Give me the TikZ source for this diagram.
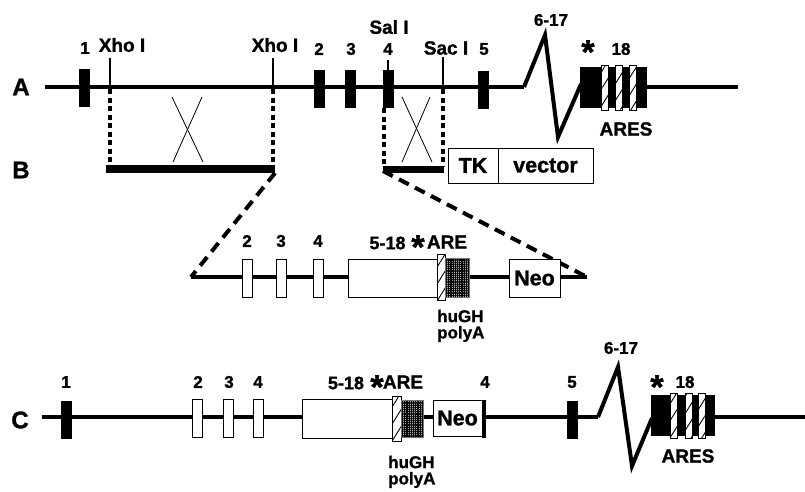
\documentclass[tikz,border=0pt]{standalone}
\usepackage{fontspec}
\setmainfont{Liberation Sans}[BoldFeatures={FakeBold=1.2}]
\usetikzlibrary{patterns.meta}
\begin{document}
\begin{tikzpicture}[x=1pt,y=-1pt,
  lbl/.style={font=\bfseries\fontsize{17}{19}\selectfont, inner sep=0},
  mid/.style={font=\bfseries\fontsize{19}{21}\selectfont, inner sep=0},
  big/.style={font=\bfseries\fontsize{24}{27}\selectfont, inner sep=0},
  boxt/.style={font=\bfseries\fontsize{21.5}{24}\selectfont, inner sep=0},
  star/.style={font=\bfseries\fontsize{34}{36}\selectfont, inner sep=0, anchor=north},
  small/.style={font=\bfseries\fontsize{17}{19}\selectfont, inner sep=0, anchor=west},
  gline/.style={line width=4pt},
  bex/.style={fill=black, draw=none, minimum width=11pt, minimum height=38pt, inner sep=0},
  wex/.style={fill=white, draw=black, line width=0.9pt, minimum width=10pt, minimum height=38pt, inner sep=0},
  wbox/.style={fill=white, draw=black, line width=0.9pt, inner sep=0},
  hatch/.style={draw=black, line width=0.9pt, inner sep=0, preaction={fill=white},
     pattern={Lines[angle=58,distance=9pt,line width=0.9pt]}, minimum width=7pt, minimum height=45pt},
  stip/.style={draw=black!55, line width=0.8pt, inner sep=0, preaction={fill=black!35},
     pattern={Hatch[angle=0,distance=2.2pt,line width=1.1pt]}},
  tick/.style={line width=1.3pt},
  vdash/.style={line width=3.5pt, dash pattern=on 5pt off 3.5pt},
  ddash/.style={line width=4pt, dash pattern=on 11pt off 7pt},
  xline/.style={line width=0.8pt},
  bar/.style={line width=8pt}
]
\useasboundingbox (0,0) rectangle (805,491);

% ---------------- Row A ----------------
\node[big] (lA) at (21,87) {A};
\coordinate (a0) at (45,87);
\coordinate (a1) at (524,87);
\coordinate (z1) at (545,35);
\coordinate (z2) at (558,137);
\coordinate (z3) at (581,84);
\coordinate (a2) at (646,87);
\coordinate (a3) at (738,87);
\draw[gline] (a0) -- (a1);
\draw[gline, line join=miter] (a1) -- (z1) -- (z2) -- (z3);
\draw[gline] (a2) -- (a3);

\coordinate (xh1) at (110,58);
\coordinate (xh1b) at (110,87);
\coordinate (xh2) at (273,58);
\coordinate (xh2b) at (273,87);
\coordinate (sac) at (443,57);
\coordinate (sacb) at (443,87);
\coordinate (sal) at (388,60);
\coordinate (salb) at (388,72);
\draw[tick] (xh1) -- (xh1b);
\draw[tick] (xh2) -- (xh2b);
\draw[tick] (sac) -- (sacb);
\draw[tick] (sal) -- (salb);

\node[bex] (A1) at (84,88) {};
\node[bex] (A2) at (319,89) {};
\node[bex] (A3) at (350,89) {};
\node[bex] (A4) at (388,89) {};
\node[bex] (A5) at (483,90) {};
\node[bex, minimum width=67pt, minimum height=41pt] (A18) at (613.5,87.5) {};
\node[hatch] (As1) at (605,87.5) {};
\node[hatch] (As2) at (618.5,87.5) {};
\node[hatch] (As3) at (632.5,87.5) {};

\node[lbl] (tA1) at (85,48) {1};
\node[mid] (tXho1) at (122,45) {Xho I};
\node[mid] (tXho2) at (275,45) {Xho I};
\node[lbl] (tA2) at (319,49) {2};
\node[lbl] (tA3) at (351,49) {3};
\node[lbl] (tA4) at (388,49) {4};
\node[mid] (tSal) at (389,27) {Sal I};
\node[mid] (tSac) at (446,48) {Sac I};
\node[lbl] (tA5) at (484,49) {5};
\node[lbl] (tA617) at (551,20) {6-17};
\node[star] (tAst) at (588,40) {*};
\node[lbl] (tA18) at (621,49) {18};
\node[mid] (tAres) at (626,129) {ARES};

% ---------------- Row B ----------------
\node[big] (lB) at (21,170) {B};
\coordinate (b1) at (106,169);
\coordinate (b2) at (275,169);
\coordinate (b3) at (383,169.5);
\coordinate (b4) at (444,169.5);
\draw[bar] (b1) -- (b2);
\draw[bar, line width=7pt] (b3) -- (b4);
\node[wbox, minimum width=50pt, minimum height=35pt] (TK) at (473,165.5) {};
\node[wbox, minimum width=95pt, minimum height=35pt] (vec) at (545.5,165.5) {};
\node[boxt] (tTK) at (TK) {TK};
\node[boxt] (tvec) at (vec) {vector};

% dashed verticals
\coordinate (v1a) at (110,89);  \coordinate (v1b) at (110,165);
\coordinate (v2a) at (273,89);  \coordinate (v2b) at (273,165);
\coordinate (v3a) at (384,108); \coordinate (v3b) at (384,166);
\coordinate (v4a) at (443,89);  \coordinate (v4b) at (443,166);
\draw[vdash] (v1a) -- (v1b);
\draw[vdash] (v2a) -- (v2b);
\draw[vdash] (v3a) -- (v3b);
\draw[vdash] (v4a) -- (v4b);

% crosses
\coordinate (x1a) at (172,97); \coordinate (x1b) at (203,162);
\coordinate (x1c) at (202,97); \coordinate (x1d) at (173,162);
\coordinate (x2a) at (402,97); \coordinate (x2b) at (432,162);
\coordinate (x2c) at (430,97); \coordinate (x2d) at (402,162);
\draw[xline] (x1a) -- (x1b);
\draw[xline] (x1c) -- (x1d);
\draw[xline] (x2a) -- (x2b);
\draw[xline] (x2c) -- (x2d);

% ---------------- Middle construct ----------------
\coordinate (m0) at (191,277);
\coordinate (m1) at (587,277);
\coordinate (d1) at (275,173);
\coordinate (d2) at (383,171);
\draw[ddash] (d1) -- (m0);
\draw[ddash] (d2) -- (m1);
\draw[gline] (m0) -- (m1);

\node[wex] (M2) at (247,278) {};
\node[wex] (M3) at (281,278) {};
\node[wex] (M4) at (318,278) {};
\node[wbox, minimum width=89pt, minimum height=38pt] (M518) at (392.5,278) {};
\node[hatch, minimum width=8pt, minimum height=46pt] (Mh) at (441,277) {};
\node[stip, minimum width=24pt, minimum height=39pt] (Ms) at (457,277.5) {};
\node[wbox, minimum width=51pt, minimum height=38pt] (MNeo) at (534.5,278) {};
\node[boxt] (tMNeo) at (MNeo) {Neo};

\node[lbl] (tM2) at (247,241) {2};
\node[lbl] (tM3) at (281,241) {3};
\node[lbl] (tM4) at (318,241) {4};
\node[lbl, font=\bfseries\fontsize{18}{20}\selectfont] (tM518) at (387.5,243) {5-18};
\node[star] (tMst) at (418,235) {*};
\node[mid] (tMare) at (447,242) {ARE};
\node[small] (tMhu) at (437,316) {huGH};
\node[small] (tMpa) at (437,334) {polyA};

% ---------------- Row C ----------------
\node[big] (lC) at (20,420) {C};
\coordinate (c0) at (42,417);
\coordinate (c1) at (598,417);
\coordinate (y1) at (618,367);
\coordinate (y2) at (632,466);
\coordinate (y3) at (652,418);
\coordinate (c2) at (714,417);
\coordinate (c3) at (805,417);
\draw[gline] (c0) -- (c1);
\draw[gline, line join=miter] (c1) -- (y1) -- (y2) -- (y3);
\draw[gline] (c2) -- (c3);

\node[bex] (C1) at (66.5,419.5) {};
\node[wex] (C2) at (197,418) {};
\node[wex] (C3) at (228,418) {};
\node[wex] (C4) at (258,418) {};
\node[wbox, minimum width=90pt, minimum height=39pt] (C518) at (347,418.5) {};
\node[hatch, minimum width=9pt] (Ch) at (396.5,418.5) {};
\node[stip, minimum width=22pt, minimum height=37pt] (Cs) at (412,418.5) {};
\node[wbox, minimum width=49pt, minimum height=36pt] (CNeo) at (457.5,418) {};
\node[boxt] (tCNeo) at (CNeo) {Neo};
\node[bex, minimum width=4pt] (C4b) at (484,419) {};
\node[bex] (C5) at (572,420) {};
\node[bex, minimum width=64pt, minimum height=41pt] (C18) at (683,415.5) {};
\node[hatch] (Cs1) at (673.5,415.5) {};
\node[hatch] (Cs2) at (688.5,415.5) {};
\node[hatch] (Cs3) at (702,415.5) {};

\node[lbl] (tC1) at (66,382) {1};
\node[lbl] (tC2) at (198,382) {2};
\node[lbl] (tC3) at (229,382) {3};
\node[lbl] (tC4) at (258,382) {4};
\node[lbl, font=\bfseries\fontsize{18}{20}\selectfont] (tC518) at (346,383) {5-18};
\node[star] (tCst) at (377,375) {*};
\node[mid] (tCare) at (403,382) {ARE};
\node[small] (tChu) at (388,462) {huGH};
\node[small] (tCpa) at (388,480) {polyA};
\node[lbl] (tC4r) at (485,382) {4};
\node[lbl] (tC5) at (572,382) {5};
\node[lbl] (tC617) at (621,348) {6-17};
\node[star] (tCst2) at (657,375) {*};
\node[lbl] (tC18) at (685,382) {18};
\node[mid] (tCares) at (688,456) {ARES};
\end{tikzpicture}
\end{document}
